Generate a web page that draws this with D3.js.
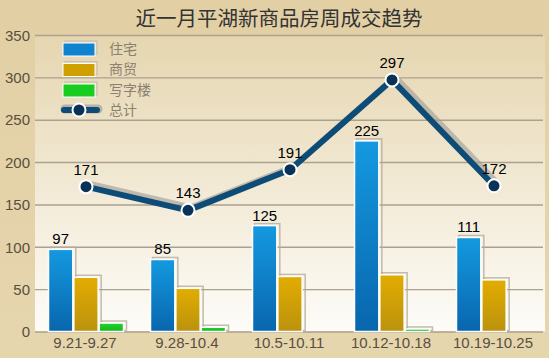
<!DOCTYPE html>
<html><head><meta charset="utf-8">
<script src="https://cdn.jsdelivr.net/npm/d3@7"></script>
<style>html,body{margin:0;padding:0;background:#e4d3aa;}svg{display:block;}</style>
</head><body>
<script>
const categories = ["9.21-9.27","9.28-10.4","10.5-10.11","10.12-10.18","10.19-10.25"];
const residential = [97, 85, 125, 225, 111];
const commercial = [64, 51, 65, 67, 61];
const office = [10, 5, 0, 3, 0];
const total = [171, 143, 191, 297, 172];
const yTicks = [0, 50, 100, 150, 200, 250, 300, 350];
const seriesNames = ["住宅", "商贸", "写字楼", "总计"];
const title = "近一月平湖新商品房周成交趋势";

const W = 549, H = 358;
const m = {left: 35, right: 4, top: 35, bottom: 26.5};
const svg = d3.select("body").append("svg").attr("width", W).attr("height", H);
const defs = svg.append("defs");

const bg = defs.append("linearGradient").attr("id","bg").attr("x1",0).attr("x2",0).attr("y1",0).attr("y2",1);
bg.append("stop").attr("offset","0%").attr("stop-color","#e6d6b0");
bg.append("stop").attr("offset","100%").attr("stop-color","#fdfcf8");
const outer = defs.append("linearGradient").attr("id","outer").attr("x1",0).attr("x2",0).attr("y1",0).attr("y2",1);
outer.append("stop").attr("offset","0%").attr("stop-color","#e2cfa4");
outer.append("stop").attr("offset","100%").attr("stop-color","#e6d6ae");

function grad(id, c1, c2){
  const g = defs.append("linearGradient").attr("id",id).attr("x1",0).attr("x2",0).attr("y1",0).attr("y2",1);
  g.append("stop").attr("offset","0%").attr("stop-color",c1);
  g.append("stop").attr("offset","100%").attr("stop-color",c2);
}
grad("gBlue","#1499e0","#0866ad");
grad("gGold","#e2ac00","#bb920e");
grad("gGreen","#22d42a","#10b818");
const fills = ["url(#gBlue)","url(#gGold)","url(#gGreen)"];
const legendFills = ["#1083d0","#cfa000","#18cc20"];

svg.append("rect").attr("width",W).attr("height",H).attr("fill","url(#outer)");

const x0 = m.left, x1 = W - m.right, yB = H - m.bottom, yT = m.top;
const x = d3.scaleBand().domain(categories).range([x0, x1]).paddingInner(0).paddingOuter(0);
const y = d3.scaleLinear().domain([0, 350]).range([yB, yT]);

svg.append("rect").attr("x",x0).attr("y",yT).attr("width",x1-x0).attr("height",yB-yT).attr("fill","url(#bg)");

// grid
const yAxis = d3.axisLeft(y).tickValues(yTicks).tickSize(-(x1 - x0 - 2)).tickPadding(5);
const ga = svg.append("g").attr("transform",`translate(${x0},0)`).call(yAxis);
ga.select(".domain").remove();
ga.selectAll(".tick line").attr("stroke","#aca18e").attr("stroke-width",1.4);
ga.selectAll(".tick text").attr("fill","#5a4f3d").attr("font-family","Liberation Sans, Arial, sans-serif").attr("font-size",15).attr("dy","0.35em");

// bars
const inner = d3.scaleBand().domain([0,1,2]).range([0, 75]).paddingInner(0.04);
const groupOff = (x.bandwidth() - 75) / 2;
const seriesVals = [residential, commercial, office];
seriesVals.forEach((vals, si) => {
  const g = svg.append("g");
  vals.forEach((v, i) => {
    if (v <= 0) return;
    const bx = x(categories[i]) + groupOff + inner(si);
    const by = y(v);
    g.append("rect").attr("x", bx + 2).attr("y", by - 2).attr("width", inner.bandwidth()+1).attr("height", yB - by + 1)
      .attr("fill","none").attr("stroke","#b4ab9c").attr("stroke-width",1.5).attr("opacity",0.8);
    g.append("rect").attr("x", bx).attr("y", by).attr("width", inner.bandwidth()).attr("height", yB - by)
      .attr("fill", fills[si]).attr("stroke","#ffffff").attr("stroke-width",1.5);
  });
});

// bar labels (residential)
svg.append("g").selectAll("text").data(residential).join("text")
  .attr("x",(d,i)=> x(categories[i]) + groupOff + inner(0) + inner.bandwidth()/2)
  .attr("y", d => y(d) - 5)
  .attr("text-anchor","middle").attr("font-family","Liberation Sans, Arial, sans-serif").attr("font-size",15).attr("fill","#000")
  .text(d => d);

// line
const cx = i => x(categories[i]) + x.bandwidth()/2;
const line = d3.line().x((d,i)=>cx(i)).y(d=>y(d));
svg.append("path").datum(total).attr("d",line).attr("transform","translate(3,-3)")
  .attr("fill","none").attr("stroke","#9c9a94").attr("stroke-width",6).attr("opacity",0.6).attr("stroke-linejoin","round");
svg.append("path").datum(total).attr("d",line)
  .attr("fill","none").attr("stroke","#0e4c78").attr("stroke-width",6).attr("stroke-linejoin","round");
svg.append("g").selectAll("circle").data(total).join("circle")
  .attr("cx",(d,i)=>cx(i)).attr("cy",d=>y(d)).attr("r",6.5)
  .attr("fill","#0a3256").attr("stroke","#ffffff").attr("stroke-width",2);
svg.append("g").selectAll("text").data(total).join("text")
  .attr("x",(d,i)=>cx(i)).attr("y",d=>y(d)-12)
  .attr("text-anchor","middle").attr("font-family","Liberation Sans, Arial, sans-serif").attr("font-size",15).attr("fill","#000")
  .text(d=>d);

// x labels
svg.append("g").selectAll("text").data(categories).join("text")
  .attr("x", d => x(d) + x.bandwidth()/2 - 1).attr("y", H - 10)
  .attr("text-anchor","middle").attr("font-family","Liberation Sans, Arial, sans-serif").attr("font-size",15).attr("fill","#5a4f3d")
  .text(d=>d);

// title
svg.append("text").attr("x",279).attr("y",26).attr("text-anchor","middle")
  .attr("font-family","Noto Sans CJK SC, sans-serif").attr("font-size",20.5).attr("fill","#333").text(title);

// legend
const lg = svg.append("g");
const rowY = [49, 69.5, 90, 110];
for (let k = 0; k < 3; k++) {
  lg.append("rect").attr("x",65).attr("y",rowY[k]-8).attr("width",32).attr("height",13).attr("fill","none").attr("stroke","#c9c0b0").attr("stroke-width",1.2);
  lg.append("rect").attr("x",63).attr("y",rowY[k]-6).attr("width",32).attr("height",13).attr("fill",legendFills[k]).attr("stroke","#fff").attr("stroke-width",1);
}
lg.append("line").attr("x1",64).attr("x2",97).attr("y1",rowY[3]).attr("y2",rowY[3]).attr("stroke","#b8b2a6").attr("stroke-width",9).attr("stroke-linecap","round").attr("transform","translate(1,-1)");
lg.append("line").attr("x1",64).attr("x2",97).attr("y1",rowY[3]).attr("y2",rowY[3]).attr("stroke","#0e4c78").attr("stroke-width",6).attr("stroke-linecap","round");
lg.append("circle").attr("cx",79).attr("cy",rowY[3]).attr("r",6.5).attr("fill","#0a3256").attr("stroke","#fff").attr("stroke-width",2);
seriesNames.forEach((n,k) => {
  lg.append("text").attr("x",109).attr("y",rowY[k]).attr("dy","0.35em")
    .attr("font-family","Noto Sans CJK SC, sans-serif").attr("font-size",14).attr("fill","#8a8170").text(n);
});
</script>
</body></html>
